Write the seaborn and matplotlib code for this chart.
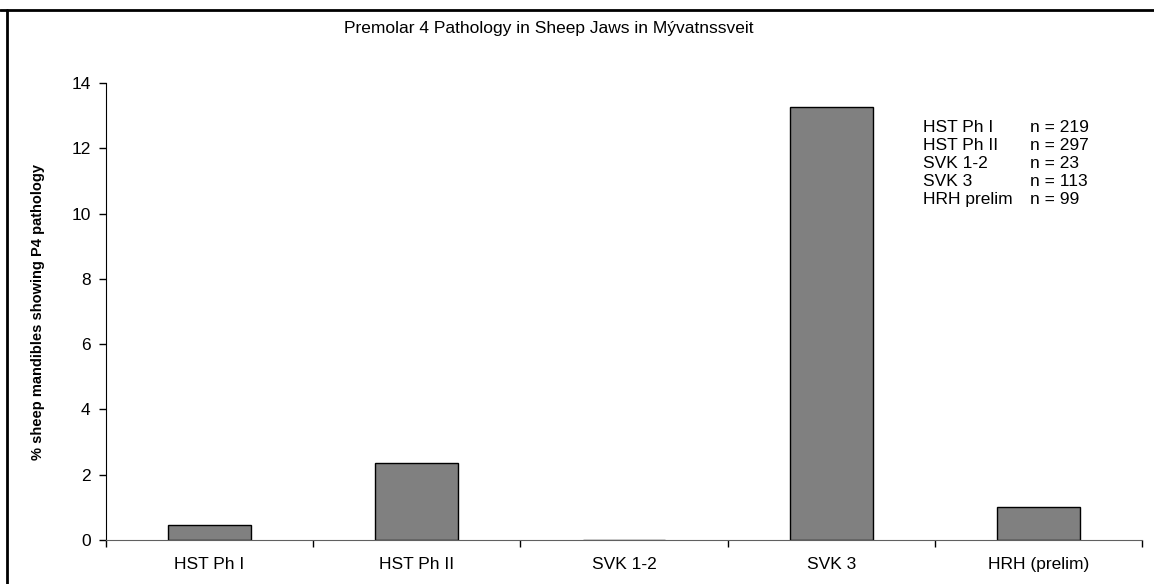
import numpy as np
import pandas as pd
import matplotlib
matplotlib.use('Agg')
import matplotlib.pyplot as plt
import seaborn as sns
from matplotlib.lines import Line2D

# data
sites = ['HST Ph I', 'HST Ph II', 'SVK 1-2', 'SVK 3', 'HRH (prelim)']
pct_p4 = [0.46, 2.36, 0.0, 13.27, 1.01]
legend_names = ['HST Ph I', 'HST Ph II', 'SVK 1-2', 'SVK 3', 'HRH prelim']
legend_n = [219, 297, 23, 113, 99]

sns.set_style('white')
plt.rcParams['font.family'] = ['Liberation Sans', 'DejaVu Sans']
plt.rcParams['text.color'] = 'black'
plt.rcParams['axes.labelcolor'] = 'black'
plt.rcParams['xtick.color'] = 'black'
plt.rcParams['ytick.color'] = 'black'

df = pd.DataFrame({'site': sites, 'pct': pct_p4})

fig = plt.figure(figsize=(11.54, 5.84), dpi=100)
ax = fig.add_axes([106/1154, 1-540/584, (1142-106)/1154, (540-83)/584])

sns.barplot(data=df, x='site', y='pct', order=sites, color='#808080',
            saturation=1, width=0.4, edgecolor='black', linewidth=1, ax=ax)

fs = 12.5
ax.set_ylim(0, 14)
ax.set_xlim(-0.5, len(sites) - 0.5)
ax.set_yticks(np.arange(0, 15, 2))
ax.tick_params(axis='y', direction='out', length=5, width=1, labelsize=fs,
               left=True, pad=6)

# category ticks at boundaries, labels at centres
ax.set_xticks(np.arange(-0.5, len(sites)), minor=False)
ax.set_xticklabels([''] * (len(sites) + 1))
ax.set_xticks(np.arange(len(sites)), minor=True)
ax.set_xticklabels(sites, minor=True)
ax.tick_params(axis='x', which='major', direction='out', length=5, width=1, bottom=True)
ax.tick_params(axis='x', which='minor', length=0, labelsize=fs, pad=12)

ax.set_xlabel('')
ax.set_ylabel('% sheep mandibles showing P4 pathology', fontsize=10.5,
              fontweight='bold')
ax.yaxis.set_label_coords((45 - 106) / 1036, 0.5)
for s in ['top', 'right']:
    ax.spines[s].set_visible(False)
ax.spines['left'].set_color('black')
ax.spines['bottom'].set_color('#606060')

fig.text(549/1154, 1-28/584, 'Premolar 4 Pathology in Sheep Jaws in Mývatnssveit',
         ha='center', va='center', fontsize=fs)

# sample size note
y0 = 132
for i, (nm, n) in enumerate(zip(legend_names, legend_n)):
    y = 1 - (y0 + i * 18) / 584
    fig.text(923/1154, y, nm, ha='left', va='baseline', fontsize=fs)
    fig.text(1030/1154, y, f'n = {n}', ha='left', va='baseline', fontsize=fs)

# outer frame (top and left visible)
fig.add_artist(Line2D([0, 1], [1-10/584, 1-10/584], transform=fig.transFigure,
                      color='black', lw=2))
fig.add_artist(Line2D([7/1154, 7/1154], [0, 1-10/584], transform=fig.transFigure,
                      color='black', lw=2))

fig.savefig('out.png', dpi=100)
